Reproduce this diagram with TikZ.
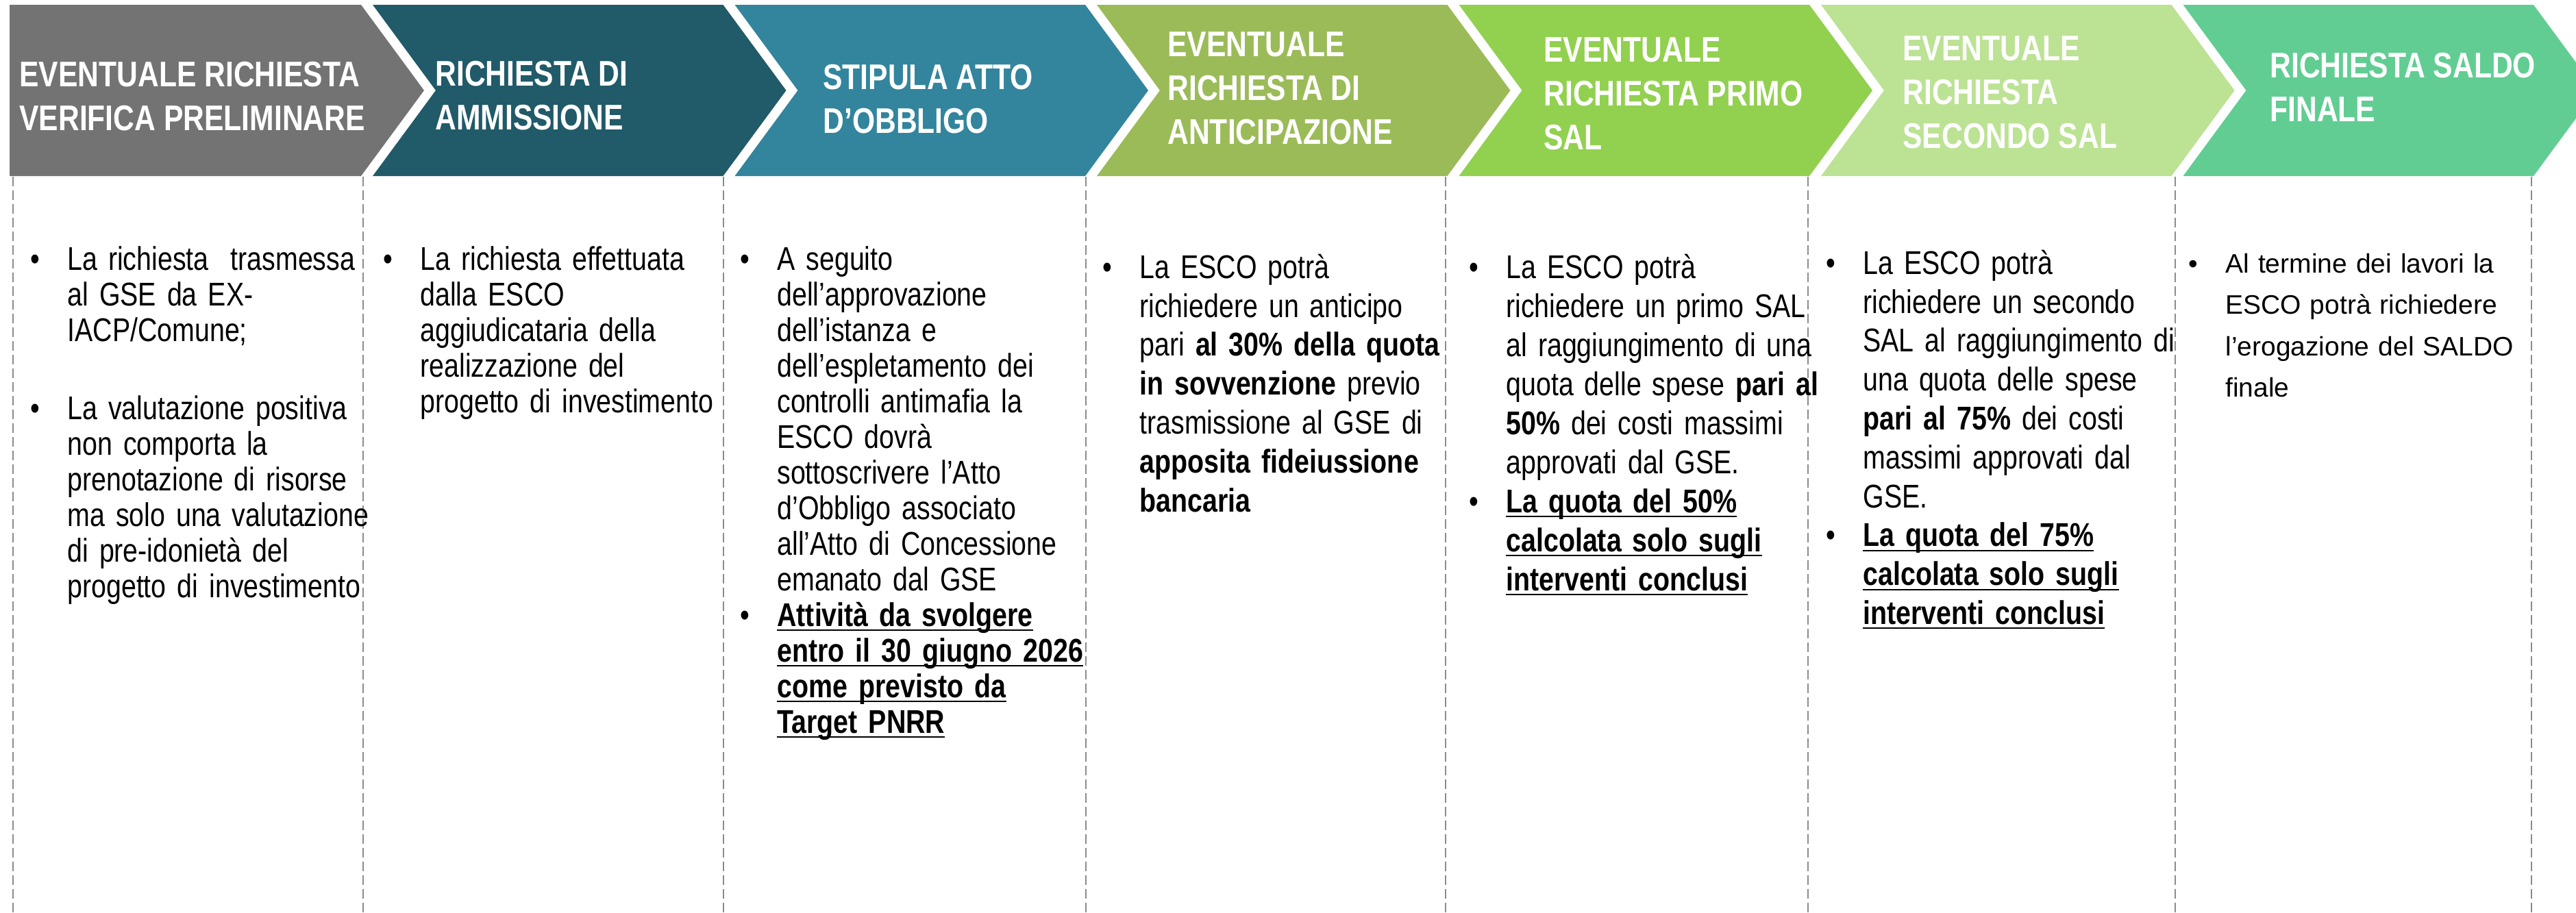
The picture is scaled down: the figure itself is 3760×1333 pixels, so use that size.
\documentclass[tikz,border=0pt]{standalone}
\usepackage{fontspec}
\setmainfont{Liberation Sans}
\newfontfamily\narrowsf{Liberation Sans}[FakeStretch=0.82]

\definecolor{stagegray}{HTML}{737373}
\definecolor{stagenavy}{HTML}{215A68}
\definecolor{stageteal}{HTML}{32859C}
\definecolor{stageolive}{HTML}{9BBB59}
\definecolor{stagegreen}{HTML}{92D050}
\definecolor{stagelime}{HTML}{BCE294}
\definecolor{stagemint}{HTML}{61CD92}
\definecolor{sepgray}{HTML}{8C8C8C}

\newcommand{\bul}{\par\leftskip=27pt\noindent\hspace*{-27pt}\makebox[27pt][l]{•}}
\newcommand{\bu}[1]{\leavevmode\setbox0\hbox{\textbf{#1}}\rlap{\rule[-3.5pt]{\wd0}{1pt}}\box0}
\newcommand{\tstrut}{\rule{0pt}{20pt}}

\tikzset{
  head/.style={anchor=north west, inner sep=0pt, text=white, align=left,
    font=\narrowsf\bfseries\fontsize{26}{32}\selectfont},
  body/.style={anchor=north west, inner sep=0pt, text width=280pt, align=left,
    font=\narrowsf\fontsize{24}{#1}\selectfont},
  bodywide/.style={anchor=north west, inner sep=0pt, text width=280pt, align=left,
    font=\fontsize{19.5}{30.3}\selectfont},
  sep/.style={draw=sepgray, line width=1pt, dash pattern=on 7pt off 3pt},
}

\begin{document}
\begin{tikzpicture}[x=0.5pt,y=-0.5pt]
  \useasboundingbox (0,0) rectangle (3760,1333);
  \fill[white] (0,0) rectangle (3760,1333);
  \clip (0,0) rectangle (3760,1333);

  \foreach \c [count=\i from 0] in {stagegray,stagenavy,stageteal,stageolive,stagegreen,stagelime,stagemint}{
    \pgfmathsetmacro{\xr}{527+528.5*\i}
    \pgfmathsetmacro{\xl}{\i==0 ? 14 : \xr-511.5}
    \pgfmathsetmacro{\xn}{\i==0 ? 14 : \xl+92}
    \fill[\c] (\xl,7) -- (\xr,7) -- (\xr+92,132) -- (\xr,257) -- (\xl,257) -- (\xn,132) -- cycle;
  }

  \foreach \x in {19,530,1056,1585,2110,2639,3175,3695}
    \draw[sep] (\x,258) -- (\x,1333);

  \node[head] (h1) at (28,86) {\tstrut EVENTUALE RICHIESTA\\VERIFICA PRELIMINARE};
  \node[head] (h2) at (635,85) {\tstrut RICHIESTA DI\\AMMISSIONE};
  \node[head] (h3) at (1201,90) {\tstrut STIPULA ATTO\\D’OBBLIGO};
  \node[head] (h4) at (1704,42) {\tstrut EVENTUALE\\RICHIESTA DI\\ANTICIPAZIONE};
  \node[head] (h5) at (2253,50) {\tstrut EVENTUALE\\RICHIESTA PRIMO\\SAL};
  \node[head] (h6) at (2777,48) {\tstrut EVENTUALE\\RICHIESTA\\SECONDO SAL};
  \node[head] (h7) at (3313,73) {\tstrut RICHIESTA SALDO\\FINALE};

  \node[body=26pt] (t1) at (44,342) {\bul\tstrut La richiesta\ \ trasmessa\\
    al GSE da EX-\\
    IACP/Comune;\\[31pt]
    \bul La valutazione positiva\\
    non comporta la\\
    prenotazione di risorse\\
    ma solo una valutazione\\
    di pre-idonietà del\\
    progetto di investimento\par};

  \node[body=26pt] (t2) at (559,342) {\bul\tstrut La richiesta effettuata\\
    dalla ESCO\\
    aggiudicataria della\\
    realizzazione del\\
    progetto di investimento\par};

  \node[body=26pt] (t3) at (1080,342) {\bul\tstrut A seguito\\
    dell’approvazione\\
    dell’istanza e\\
    dell’espletamento dei\\
    controlli antimafia la\\
    ESCO dovrà\\
    sottoscrivere l’Atto\\
    d’Obbligo associato\\
    all’Atto di Concessione\\
    emanato dal GSE
    \bul\bu{Attività da svolgere}\\
    \bu{entro il 30 giugno 2026}\\
    \bu{come previsto da}\\
    \bu{Target PNRR}\par};

  \node[body=28.4pt] (t4) at (1609,349) {\bul\tstrut La ESCO potrà\\
    richiedere un anticipo\\
    pari \textbf{al 30\% della quota}\\
    \textbf{in sovvenzione} previo\\
    trasmissione al GSE di\\
    \textbf{apposita fideiussione}\\
    \textbf{bancaria}\par};

  \node[body=28.5pt] (t5) at (2144,349) {\bul\tstrut La ESCO potrà\\
    richiedere un primo SAL\\
    al raggiungimento di una\\
    quota delle spese \textbf{pari al}\\
    \textbf{50\%} dei costi massimi\\
    approvati dal GSE.
    \bul\bu{La quota del 50\%}\\
    \bu{calcolata solo sugli}\\
    \bu{interventi conclusi}\par};

  \node[body=28.4pt] (t6) at (2665,343) {\bul\tstrut La ESCO potrà\\
    richiedere un secondo\\
    SAL al raggiungimento di\\
    una quota delle spese\\
    \textbf{pari al 75\%} dei costi\\
    massimi approvati dal\\
    GSE.
    \bul\bu{La quota del 75\%}\\
    \bu{calcolata solo sugli}\\
    \bu{interventi conclusi}\par};

  \node[bodywide] (t7) at (3194,337) {\bul\tstrut Al termine dei lavori la\\
    ESCO potrà richiedere\\
    l’erogazione del SALDO\\
    finale\par};
\end{tikzpicture}
\end{document}
